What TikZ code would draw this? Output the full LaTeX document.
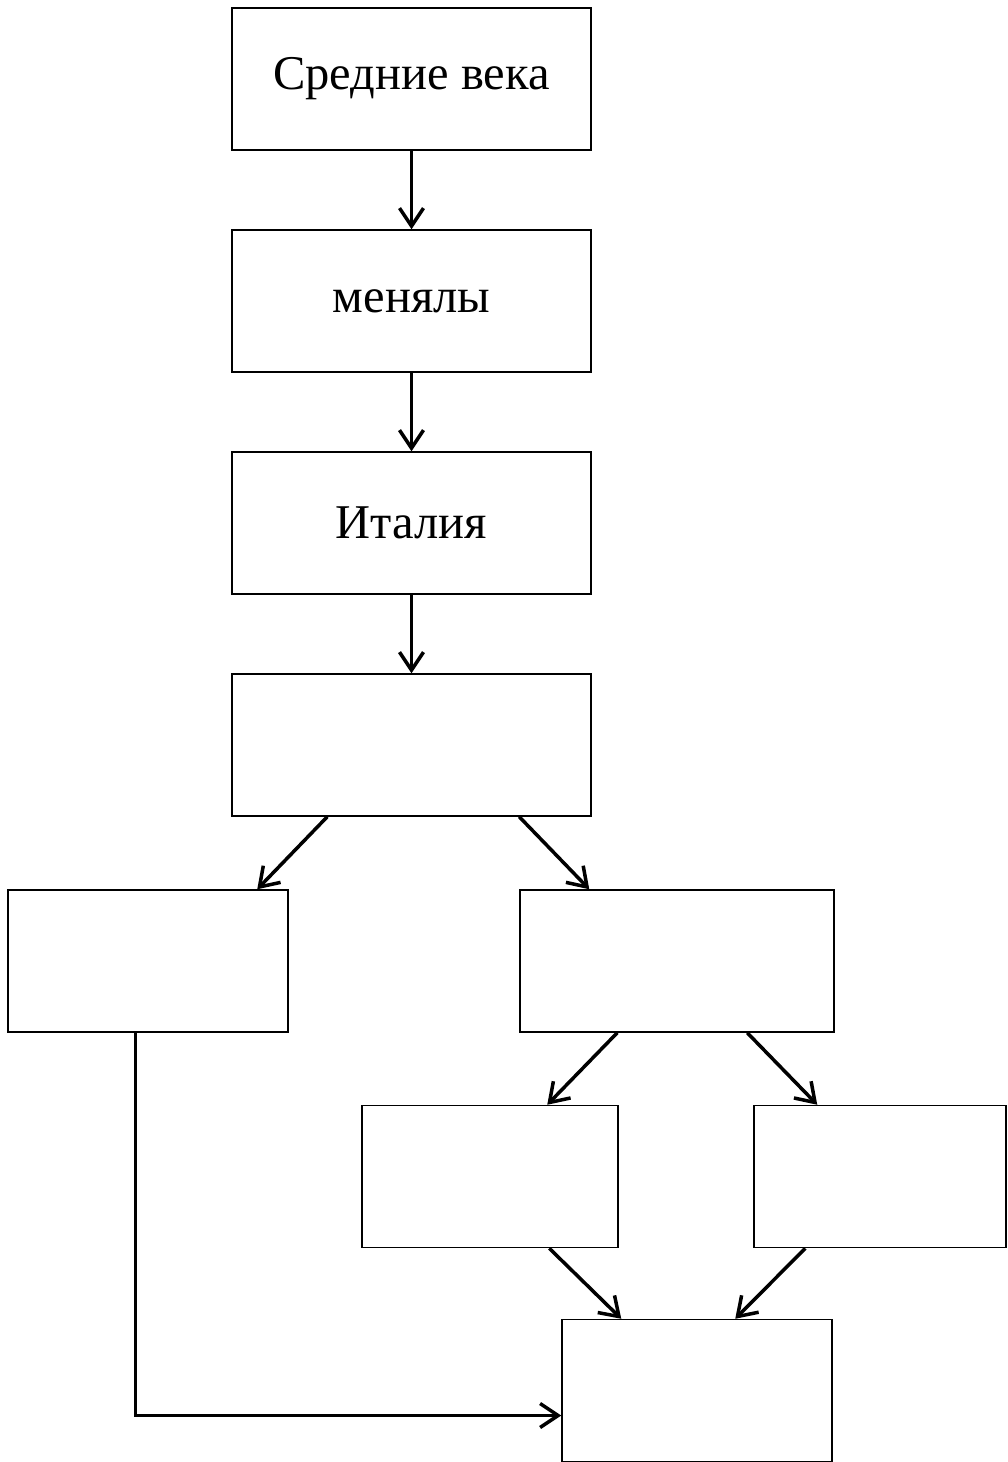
\documentclass[tikz,border=0pt]{standalone}
\usepackage{fontspec}
\setmainfont{Liberation Serif}
\usetikzlibrary{arrows.meta}

\begin{document}
\begin{tikzpicture}
	[%
	x=1pt, y=-1pt,%
	box/.style ={rectangle,	draw=black,	line width=1.5pt,	inner sep=0pt,	minimum height=142pt,	font=\fontsize{48.5}{54}\selectfont},%
	link/.style={line width=3.5pt,	-{Straight Barb[length=18pt,width=24pt]}},%
	]
	\useasboundingbox (0,0) rectangle (1008,1462);

	% nodes
	\foreach \n/\x/\y/\w/\t in {	1/411.5/79/359/{Средние века}, 2/411.5/301/359/менялы, 3/411.5/523/359/Италия, 4/411.5/745/359/{}, %
												5/148/961/280/{}, 6/677/961/314/{}, 7/490/1176.5/256/{}, 8/880/1176.5/252/{}, 9/697/1390.5/270/{}%
												}
		\node (box\n) at (\x,\y) [box, minimum width=\w pt] {\t};

	% interconnections
	\foreach \i/\o in {1/2, 2/3, 3/4}
		\draw [link] (box\i) -- (box\o);

	\draw [link] ([xshift=96pt]box4.south west) -- ([xshift=250pt]box5.north west);
	\draw [link] ([xshift=288pt]box4.south west) -- ([xshift=70pt]box6.north west);
	\draw [link] ([xshift=98pt]box6.south west) -- ([xshift=186pt]box7.north west);
	\draw [link] ([xshift=228pt]box6.south west) -- ([xshift=64pt]box8.north west);
	\draw [link] ([xshift=188pt]box7.south west) -- ([xshift=60pt]box9.north west);
	\draw [link] ([xshift=52pt]box8.south west) -- ([xshift=174pt]box9.north west);

	% around the left
	\draw [link] ([xshift=128pt]box5.south west) |- ([yshift=-25pt]box9.west);

\end{tikzpicture}
\end{document}
